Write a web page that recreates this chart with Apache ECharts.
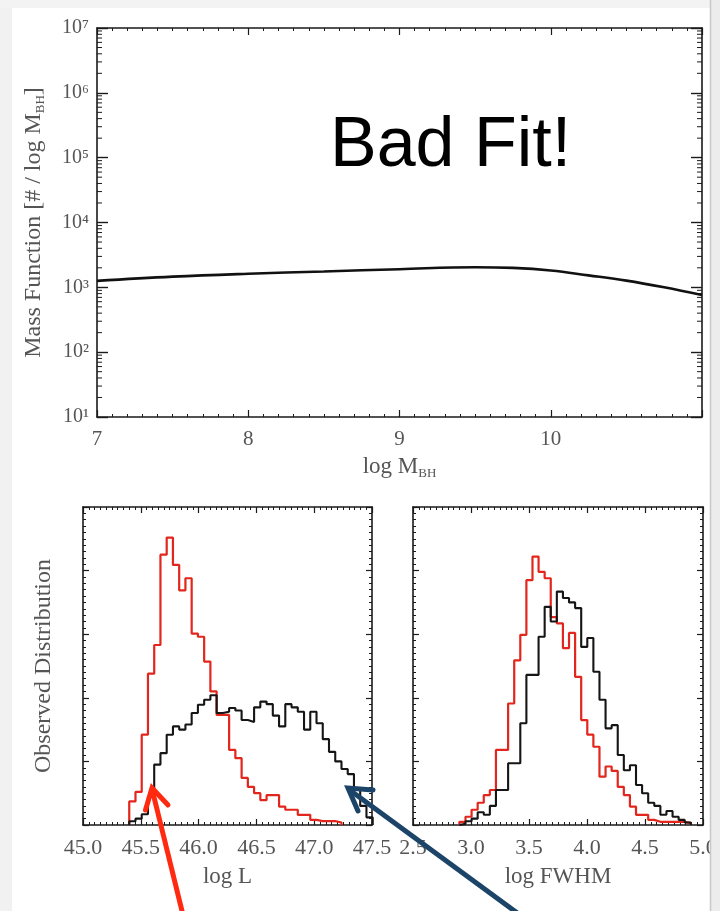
<!DOCTYPE html>
<html>
<head>
<meta charset="utf-8">
<script src="https://cdn.jsdelivr.net/npm/echarts@6/dist/echarts.min.js"></script>
<style>
html,body{margin:0;padding:0;background:#fff;}
#chart{width:720px;height:911px;}
</style>
</head>
<body>
<div id="chart"></div>
<script>
// ---------- data ----------
// Top panel: mass function curve (log M_BH, #/log M_BH)
const massX = [7.0, 7.5, 8.0, 8.5, 9.0, 9.5, 9.75, 10.0, 10.25, 10.5, 10.75, 11.0];
const massY = [1259, 1462, 1622, 1758, 1905, 2042, 1995, 1820, 1530, 1270, 1000, 759];

// Bottom-left: log L histograms
const lumStart = 45.40;
const lumWidth = 0.054;
const redLum = [0.37, 0.52, 1.42, 2.38, 2.83, 4.25, 4.52, 4.09, 3.69, 3.88, 3.01, 2.96, 2.57, 2.10,
  1.73, 1.73, 1.18, 1.05, 0.74, 0.60, 0.50, 0.39, 0.47, 0.47, 0.29, 0.24, 0.24, 0.16, 0.16, 0.08,
  0.06, 0.06, 0.06, 0.04];
const blackLum = [0.06, 0.10, 0.17, 0.44, 0.95, 1.13, 1.42, 1.55, 1.50, 1.58, 1.76, 1.89, 1.97, 2.04,
  1.76, 1.78, 1.84, 1.80, 1.65, 1.62, 1.85, 1.94, 1.90, 1.72, 1.55, 1.90, 1.85, 1.78, 1.50, 1.78,
  1.60, 1.35, 1.15, 1.00, 0.88, 0.80, 0.55, 0.30, 0.12];

// Bottom-right: log FWHM histograms
const fwhmStart = 2.90;
const fwhmWidth = 0.0525;
const redFwhm = [0.05, 0.13, 0.24, 0.35, 0.47, 0.55, 1.18, 1.18, 1.91, 2.59, 2.99, 3.85, 4.22, 3.98,
  3.88, 3.27, 3.17, 2.78, 3.02, 2.33, 1.65, 1.42, 1.23, 0.76, 0.92, 0.85, 0.60, 0.47, 0.29, 0.16,
  0.16, 0.08, 0.05, 0.05, 0.05, 0.05, 0.05, 0.03];
const blackFwhm = [0.02, 0.06, 0.10, 0.20, 0.16, 0.30, 0.55, 0.55, 0.97, 0.97, 1.60, 2.36, 2.36, 2.96,
  3.43, 3.20, 3.67, 3.57, 3.50, 3.41, 2.80, 2.94, 2.41, 1.97, 1.52, 1.57, 1.10, 0.86, 0.94, 0.63,
  0.50, 0.35, 0.30, 0.16, 0.22, 0.13, 0.08, 0.04];

// Minor tick positions for the log axis (2..9 x each decade)
const logMinor = [];
for (let d = 1; d < 7; d++) for (let k = 2; k <= 9; k++) logMinor.push(k * Math.pow(10, d));

// ---------- helpers ----------
function histData(start, width, vals) {
  const d = [[start, 0]];
  vals.forEach((v, i) => d.push([+(start + i * width).toFixed(4), v]));
  d.push([+(start + vals.length * width).toFixed(4), 0]);
  return d;
}
const SUP = {'0':'⁰','1':'¹','2':'²','3':'³','4':'⁴','5':'⁵','6':'⁶','7':'⁷','8':'⁸','9':'⁹'};
const SERIF = '"Liberation Serif","DejaVu Serif",serif';
const LABEL_COLOR = '#555';
const AXIS_COLOR = '#1a1a1a';
const SUB_RICH = {sub: {fontSize: 13, lineHeight: 12, verticalAlign: 'bottom', color: LABEL_COLOR, fontFamily: SERIF}};

function xAx(grid, min, max, interval, pos, show, fmt, name) {
  return {
    type: 'value', gridIndex: grid, min: min, max: max, interval: interval, position: pos,
    axisLine: {show: true, onZero: false, lineStyle: {color: AXIS_COLOR, width: 1.6}},
    axisTick: {show: true, inside: true, length: grid === 0 ? 7 : 6, lineStyle: {color: AXIS_COLOR, width: 1.2}},
    minorTick: {show: true, splitNumber: 10, length: 3, lineStyle: {color: AXIS_COLOR, width: 1}},
    splitLine: {show: false},
    axisLabel: {show: show, color: LABEL_COLOR, fontFamily: SERIF, fontSize: grid === 0 ? 21 : 22,
      margin: 12, formatter: fmt},
    name: name || '', nameLocation: 'middle', nameGap: grid === 0 ? 37 : 39,
    nameTextStyle: {color: LABEL_COLOR, fontFamily: SERIF, fontSize: 23, lineHeight: 26, rich: SUB_RICH}
  };
}
function yBox(grid, pos) {
  return {
    type: 'value', gridIndex: grid, min: 0, max: 5, interval: 1, position: pos,
    axisLine: {show: true, lineStyle: {color: AXIS_COLOR, width: 1.6}},
    axisTick: {show: true, inside: true, length: 6, lineStyle: {color: AXIS_COLOR, width: 1.2}},
    minorTick: {show: true, splitNumber: 10, length: 3, lineStyle: {color: AXIS_COLOR, width: 1}},
    splitLine: {show: false}, axisLabel: {show: false}
  };
}

const option = {
  animation: false,
  backgroundColor: '#ffffff',
  grid: [
    {left: 97, top: 28, width: 605, height: 389},
    {left: 83, top: 507, width: 289, height: 318},
    {left: 413, top: 507, width: 290, height: 318}
  ],
  xAxis: [
    xAx(0, 7, 11, 1, 'bottom', true, v => (v === 11 ? '' : String(v)), 'log M{sub|BH}'),
    xAx(0, 7, 11, 1, 'top', false),
    xAx(1, 45, 47.5, 0.5, 'bottom', true, v => v.toFixed(1), 'log L'),
    xAx(1, 45, 47.5, 0.5, 'top', false),
    xAx(2, 2.5, 5.0, 0.5, 'bottom', true, v => v.toFixed(1), 'log FWHM'),
    xAx(2, 2.5, 5.0, 0.5, 'top', false)
  ],
  yAxis: [
    {
      type: 'log', logBase: 10, gridIndex: 0, min: 10, max: 1e7, position: 'left',
      axisLine: {show: true, lineStyle: {color: AXIS_COLOR, width: 1.6}},
      axisTick: {show: true, inside: true, length: 11, lineStyle: {color: AXIS_COLOR, width: 1.4}},
      splitLine: {show: false},
      axisLabel: {color: LABEL_COLOR, fontFamily: SERIF, fontSize: 20, margin: 8,
        formatter: v => '10' + String(Math.round(Math.log10(v))).split('').map(c => SUP[c]).join('')},
      name: 'Mass Function [# / log M{sub|BH}]', nameLocation: 'middle', nameGap: 50,
      nameTextStyle: {color: LABEL_COLOR, fontFamily: SERIF, fontSize: 24, lineHeight: 26, rich: SUB_RICH}
    },
    {
      type: 'log', logBase: 10, gridIndex: 0, min: 10, max: 1e7, position: 'right',
      axisLine: {show: true, lineStyle: {color: AXIS_COLOR, width: 1.6}},
      axisTick: {show: true, inside: true, length: 11, lineStyle: {color: AXIS_COLOR, width: 1.4}},
      splitLine: {show: false}, axisLabel: {show: false}
    },
    Object.assign(yBox(1, 'left'), {
      name: 'Observed Distribution', nameLocation: 'middle', nameGap: 27,
      nameTextStyle: {color: LABEL_COLOR, fontFamily: SERIF, fontSize: 24}
    }),
    yBox(1, 'right'),
    yBox(2, 'left'),
    yBox(2, 'right')
  ],
  series: [
    {
      type: 'line', xAxisIndex: 0, yAxisIndex: 0, smooth: 0.4, symbol: 'none',
      data: massX.map((x, i) => [x, massY[i]]),
      lineStyle: {color: '#111', width: 2.6}
    },
    {
      type: 'custom', xAxisIndex: 0, yAxisIndex: 0, silent: true,
      data: logMinor.map(v => [7, v]),
      renderItem: function (params, api) {
        const v = api.value(1);
        const p = api.coord([7, v]);
        const q = api.coord([11, v]);
        const st = {stroke: AXIS_COLOR, lineWidth: 1};
        return {type: 'group', children: [
          {type: 'line', shape: {x1: p[0], y1: p[1], x2: p[0] + 5, y2: p[1]}, style: st},
          {type: 'line', shape: {x1: q[0], y1: q[1], x2: q[0] - 5, y2: q[1]}, style: st}
        ]};
      }
    },
    {
      type: 'line', xAxisIndex: 2, yAxisIndex: 2, step: 'end', symbol: 'none',
      data: histData(lumStart, lumWidth, redLum),
      lineStyle: {color: '#e3261d', width: 2.2}
    },
    {
      type: 'line', xAxisIndex: 2, yAxisIndex: 2, step: 'end', symbol: 'none',
      data: histData(lumStart, lumWidth, blackLum),
      lineStyle: {color: '#151515', width: 2.1}
    },
    {
      type: 'line', xAxisIndex: 4, yAxisIndex: 4, step: 'end', symbol: 'none',
      data: histData(fwhmStart, fwhmWidth, redFwhm),
      lineStyle: {color: '#e3261d', width: 2.2}
    },
    {
      type: 'line', xAxisIndex: 4, yAxisIndex: 4, step: 'end', symbol: 'none',
      data: histData(fwhmStart, fwhmWidth, blackFwhm),
      lineStyle: {color: '#151515', width: 2.1}
    }
  ],
  graphic: [
    {type: 'rect', left: 0, top: 0, shape: {width: 12, height: 911}, style: {fill: '#f1f1f1'}, z: 0, silent: true},
    {type: 'rect', left: 0, top: 0, shape: {width: 720, height: 8}, style: {fill: '#f3f3f3'}, z: 0, silent: true},
    {type: 'rect', left: 710, top: 0, shape: {width: 10, height: 911}, style: {fill: '#ececec'}, z: 100, silent: true},
    {type: 'line', shape: {x1: 710.5, y1: 0, x2: 710.5, y2: 911}, style: {stroke: '#c8c8c8', lineWidth: 1.5}, z: 100, silent: true},
    {type: 'text', left: 330, top: 112, style: {text: 'Bad Fit!', fill: '#000', font: '70px "Liberation Sans", Arial, sans-serif'}, z: 50},
    // red arrow
    {type: 'line', shape: {x1: 183, y1: 915, x2: 152.5, y2: 791}, style: {stroke: '#ff2a10', lineWidth: 5, lineCap: 'butt'}, z: 60},
    {type: 'polyline', shape: {points: [[145.5, 810], [152, 788], [168, 805]]}, style: {stroke: '#ff2a10', lineWidth: 5, fill: null, lineJoin: 'miter', lineCap: 'round'}, z: 60},
    // blue arrow
    {type: 'line', shape: {x1: 520, y1: 915, x2: 351, y2: 791}, style: {stroke: '#1b4468', lineWidth: 5}, z: 60},
    {type: 'polyline', shape: {points: [[358, 811], [348, 788], [373, 790]]}, style: {stroke: '#1b4468', lineWidth: 5, fill: null, lineJoin: 'miter', lineCap: 'round'}, z: 60}
  ]
};

const chart = echarts.init(document.getElementById('chart'), null, {renderer: 'canvas'});
chart.setOption(option);
</script>
</body>
</html>
